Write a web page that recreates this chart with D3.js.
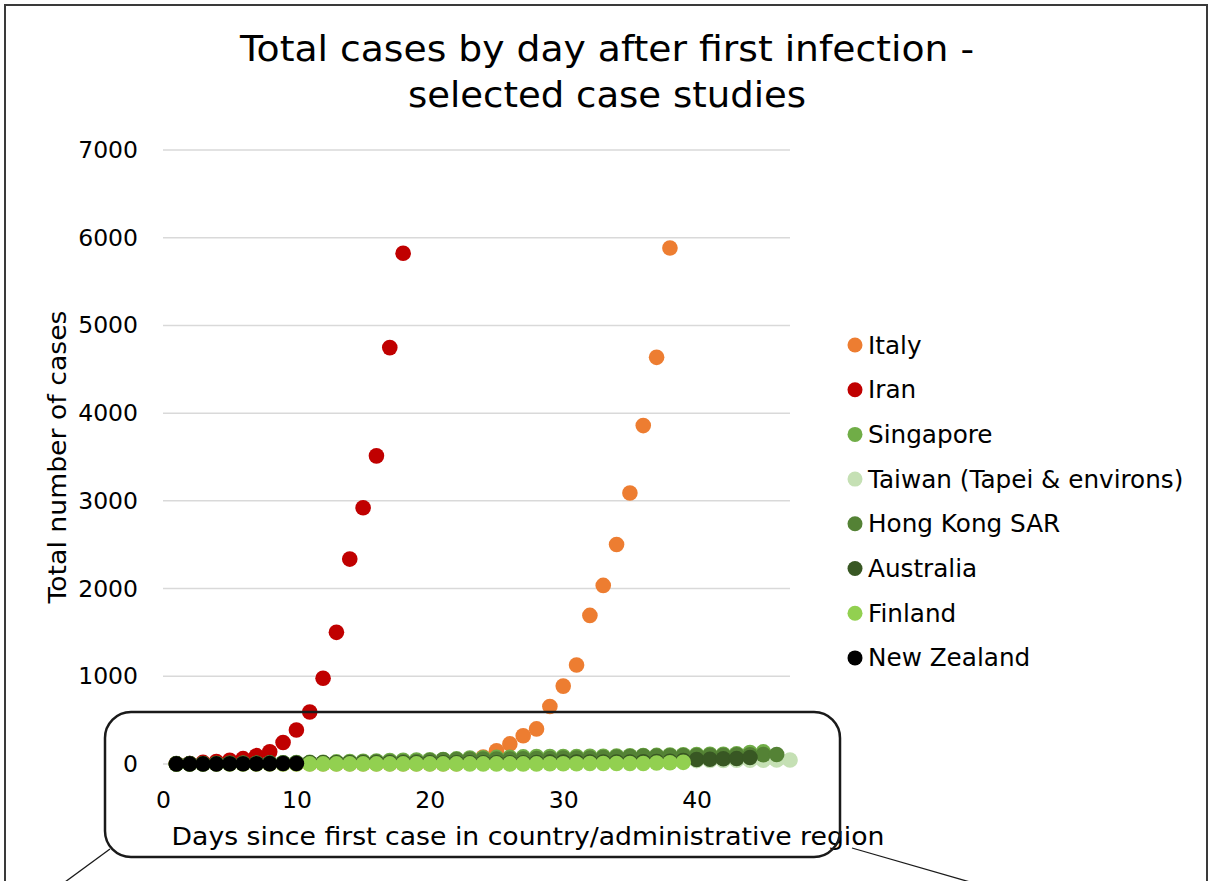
<!DOCTYPE html>
<html>
<head>
<meta charset="utf-8">
<script src="https://cdn.jsdelivr.net/npm/d3@7"></script>
<style>
  body { margin: 0; background: #fff; }
  svg { display: block; font-family: "DejaVu Sans", Verdana, sans-serif; }
</style>
</head>
<body>
<div id="chart"></div>
<script>
// series values, day 1 = first case in each place
var seriesNames = ["Italy", "Iran", "Singapore", "Taiwan (Tapei & environs)",
                   "Hong Kong SAR", "Australia", "Finland", "New Zealand"];
var seriesColors = ["#ed7d31", "#c00000", "#70ad47", "#c5e0b4",
                    "#548235", "#385723", "#92d050", "#000000"];

var italy = [2, 2, 2, 2, 2, 2, 2, 3, 3, 3, 3, 3, 3, 3, 3, 3, 3, 3, 3, 3, 3, 3,
             20, 79, 150, 229, 322, 400, 655, 888, 1128, 1694, 2036, 2502,
             3089, 3858, 4636, 5883];
var iran = [2, 5, 18, 28, 43, 61, 95, 139, 245, 388, 593, 978, 1501, 2336,
            2922, 3513, 4747, 5823];
var singapore = [1, 3, 3, 4, 5, 7, 7, 10, 13, 16, 18, 18, 24, 28, 30, 33, 40,
                 43, 45, 47, 50, 58, 67, 72, 75, 77, 81, 84, 84, 85, 85, 89, 89,
                 91, 93, 96, 98, 102, 106, 108, 110, 112, 117, 130, 138];
var taiwan = [1, 1, 1, 3, 3, 4, 5, 8, 8, 9, 10, 10, 10, 10, 11, 11, 16, 16, 17,
              18, 18, 18, 18, 18, 18, 18, 20, 22, 22, 23, 24, 26, 26, 28, 30,
              31, 32, 32, 34, 39, 40, 41, 42, 42, 44, 45, 45];
var hongKong = [1, 2, 2, 5, 8, 8, 8, 10, 10, 12, 13, 15, 15, 17, 21, 24, 25, 26,
                29, 38, 49, 50, 53, 56, 56, 57, 60, 62, 63, 68, 69, 69, 74, 79,
                84, 91, 92, 94, 95, 96, 100, 100, 105, 105, 107, 108];
var australia = [4, 4, 5, 5, 7, 9, 9, 12, 12, 12, 13, 13, 14, 15, 15, 15, 15,
                 15, 15, 15, 15, 15, 15, 15, 15, 15, 15, 17, 21, 22, 22, 22, 22,
                 23, 23, 25, 27, 30, 39, 52, 55, 60, 63, 74];
var finland = [1, 1, 1, 1, 1, 1, 1, 1, 1, 1, 1, 1, 1, 1, 1, 1, 1, 1, 1, 1, 1, 1,
               1, 1, 1, 1, 1, 1, 2, 2, 3, 6, 6, 6, 6, 6, 12, 15, 19];
var newZealand = [1, 1, 1, 1, 2, 2, 3, 4, 5, 5];

var seriesValues = [italy, iran, singapore, taiwan, hongKong, australia, finland, newZealand];

var xTicks = [0, 10, 20, 30, 40];
var yTicks = [0, 1000, 2000, 3000, 4000, 5000, 6000, 7000];

function setup() {

    var W = 1211, H = 881;
    var margin = {top: 150, right: 421, bottom: 117, left: 163},
        width = W - margin.left - margin.right,
        height = H - margin.top - margin.bottom;

    var x = d3.scaleLinear().domain([0, 47]).range([0, width]);
    var y = d3.scaleLinear().domain([0, 7000]).range([height, 0]);

    var svg = d3.select("#chart").append("svg")
        .attr("width", W)
        .attr("height", H);

    // outer chart border
    svg.append("rect")
        .attr("x", 5).attr("y", 5)
        .attr("width", W - 5 - 4).attr("height", H + 10)
        .attr("fill", "none")
        .attr("stroke", "#3a3a3a")
        .attr("stroke-width", 2);

    // title (widths stretched a bit, the original font runs wider)
    svg.append("text")
        .attr("x", 607).attr("y", 61)
        .attr("text-anchor", "middle")
        .attr("font-size", 35)
        .attr("textLength", 734)
        .attr("lengthAdjust", "spacingAndGlyphs")
        .attr("fill", "#000")
        .text("Total cases by day after first infection -");
    svg.append("text")
        .attr("x", 607).attr("y", 107)
        .attr("text-anchor", "middle")
        .attr("font-size", 35)
        .attr("textLength", 398)
        .attr("lengthAdjust", "spacingAndGlyphs")
        .attr("fill", "#000")
        .text("selected case studies");

    var g = svg.append("g")
        .attr("transform", "translate(" + margin.left + "," + margin.top + ")");

    // gridlines
    g.append("g")
        .selectAll("line")
        .data(yTicks)
        .enter().append("line")
        .attr("x1", 0).attr("x2", width)
        .attr("y1", function(d) { return y(d); })
        .attr("y2", function(d) { return y(d); })
        .attr("stroke", "#d9d9d9")
        .attr("stroke-width", 1.5);

    // y axis labels
    var yAxis = g.append("g")
        .call(d3.axisLeft(y).tickValues(yTicks).tickSize(0).tickPadding(25)
              .tickFormat(d3.format("d")));
    yAxis.select(".domain").remove();
    yAxis.selectAll("text")
        .attr("font-family", "DejaVu Sans, Verdana, sans-serif")
        .attr("font-size", 23.5)
        .attr("fill", "#000");

    // x axis labels
    var xAxis = g.append("g")
        .attr("transform", "translate(0," + height + ")")
        .call(d3.axisBottom(x).tickValues(xTicks).tickSize(0).tickPadding(27));
    xAxis.select(".domain").remove();
    xAxis.selectAll("text")
        .attr("font-family", "DejaVu Sans, Verdana, sans-serif")
        .attr("font-size", 23.5)
        .attr("fill", "#000");

    // axis titles
    svg.append("text")
        .attr("transform", "translate(66,457) rotate(-90)")
        .attr("text-anchor", "middle")
        .attr("font-size", 25.5)
        .attr("textLength", 293)
        .attr("lengthAdjust", "spacingAndGlyphs")
        .attr("fill", "#000")
        .text("Total number of cases");

    svg.append("text")
        .attr("x", 528).attr("y", 845)
        .attr("text-anchor", "middle")
        .attr("font-size", 25.5)
        .attr("textLength", 713)
        .attr("lengthAdjust", "spacingAndGlyphs")
        .attr("fill", "#000")
        .text("Days since first case in country/administrative region");

    // points, series drawn in order so later ones sit on top
    seriesValues.forEach(function(vals, i) {
        g.append("g")
            .selectAll("circle")
            .data(vals)
            .enter().append("circle")
            .attr("cx", function(d, j) { return x(j + 1); })
            .attr("cy", function(d) { return y(d); })
            .attr("r", 7.8)
            .attr("fill", seriesColors[i]);
    });

    // legend
    var legend = svg.append("g")
        .attr("transform", "translate(855,345)");
    var item = legend.selectAll("g")
        .data(seriesNames)
        .enter().append("g")
        .attr("transform", function(d, i) { return "translate(0," + (i * 44.7) + ")"; });
    item.append("circle")
        .attr("r", 7.5)
        .attr("fill", function(d, i) { return seriesColors[i]; });
    item.append("text")
        .attr("x", 13).attr("y", 8.5)
        .attr("font-size", 24.7)
        .attr("fill", "#000")
        .text(function(d) { return d; });

    // rounded callout box around the low values + its leader lines
    svg.append("rect")
        .attr("x", 105).attr("y", 712)
        .attr("width", 735).attr("height", 145)
        .attr("rx", 26).attr("ry", 26)
        .attr("fill", "none")
        .attr("stroke", "#1a1a1a")
        .attr("stroke-width", 2.5);
    svg.append("line")
        .attr("x1", 110).attr("y1", 849).attr("x2", 65).attr("y2", 882)
        .attr("stroke", "#1a1a1a").attr("stroke-width", 1.3);
    svg.append("line")
        .attr("x1", 852).attr("y1", 848).attr("x2", 970).attr("y2", 882)
        .attr("stroke", "#1a1a1a").attr("stroke-width", 1.3);
}

setup();
</script>
</body>
</html>
